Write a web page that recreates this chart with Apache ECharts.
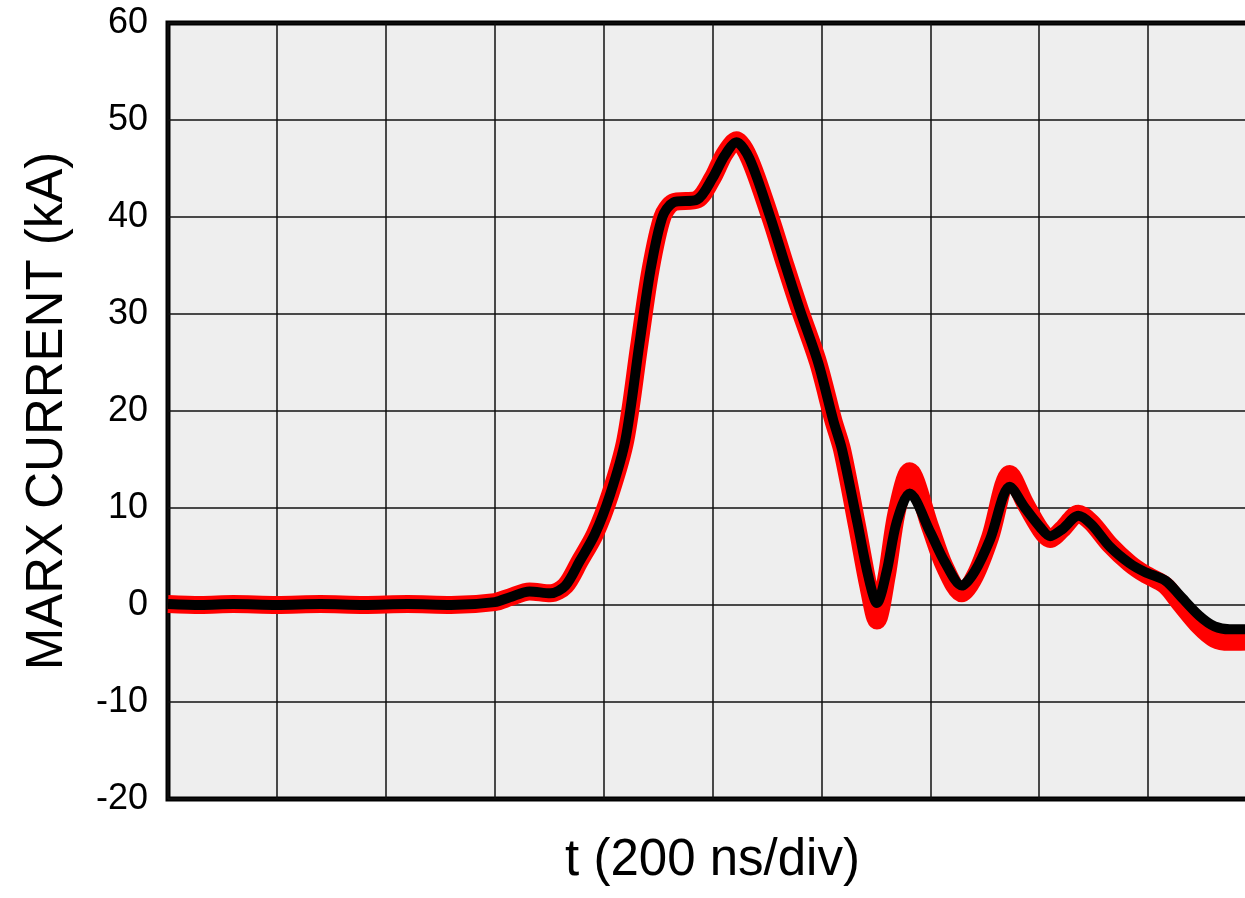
<!DOCTYPE html>
<html>
<head>
<meta charset="utf-8">
<script src="https://cdn.jsdelivr.net/npm/echarts@6/dist/echarts.min.js"></script>
<style>
  html, body { margin: 0; padding: 0; background: #ffffff; overflow: hidden; width: 1245px; height: 898px; }
  #chart { width: 1257px; height: 898px; }
</style>
</head>
<body>
<div id="chart"></div>
<script>
// time in divisions (200 ns/div)
const tDiv = [0, 0.3, 0.6, 1.0, 1.4, 1.8, 2.2, 2.6, 3.0, 3.14, 3.32, 3.51, 3.65, 3.78, 3.92, 4.06, 4.20, 4.33, 4.43, 4.54, 4.64, 4.86, 5.0, 5.11, 5.22, 5.34, 5.53, 5.67, 5.80, 5.97, 6.11, 6.19, 6.33, 6.43, 6.51, 6.60, 6.69, 6.81, 7.0, 7.13, 7.29, 7.41, 7.55, 7.73, 7.87, 8.01, 8.10, 8.21, 8.36, 8.48, 8.65, 8.83, 8.97, 9.16, 9.29, 9.47, 9.61, 9.75, 10.0];
// black trace (kA)
const blackTrace = [0.1, 0.0, 0.1, 0.0, 0.1, 0.0, 0.1, 0.0, 0.3, 0.8, 1.4, 1.2, 2.0, 4.5, 7.3, 11.4, 17.0, 27.0, 34.5, 40.0, 41.5, 41.8, 44.0, 46.3, 47.7, 46.0, 40.0, 35.0, 30.5, 25.0, 19.0, 16.0, 8.5, 3.0, 0.2, 3.5, 8.5, 11.5, 7.5, 4.5, 2.0, 3.5, 6.8, 12.2, 10.0, 8.0, 7.1, 7.8, 9.2, 8.3, 6.0, 4.3, 3.4, 2.5, 1.0, -1.1, -2.2, -2.5, -2.5];
// red trace (kA)
const redTrace = [0.1, 0.0, 0.1, 0.0, 0.1, 0.0, 0.1, 0.0, 0.3, 0.8, 1.4, 1.2, 2.0, 4.5, 7.3, 11.4, 17.0, 27.0, 34.5, 40.0, 41.5, 41.8, 44.0, 46.5, 47.9, 46.0, 40.0, 35.0, 30.5, 25.0, 19.0, 16.0, 8.0, 2.0, -1.6, 3.0, 9.5, 13.8, 8.0, 4.0, 1.2, 3.0, 7.0, 13.5, 10.5, 7.8, 6.8, 7.8, 9.4, 8.5, 6.2, 4.3, 3.2, 2.0, 0.2, -2.2, -3.5, -3.8, -3.7];
const yTicks = [-20, -10, 0, 10, 20, 30, 40, 50, 60];

const FONT = 'Liberation Sans, Arial, Helvetica, sans-serif';
const chart = echarts.init(document.getElementById('chart'));
chart.setOption({
  animation: false,
  backgroundColor: '#ffffff',
  grid: {
    left: 168, top: 23, right: 0, bottom: 99,
    show: true, backgroundColor: '#eeeeee', borderColor: '#000000', borderWidth: 5
  },
  xAxis: {
    type: 'value', min: 0, max: 10, interval: 1,
    axisLabel: { show: false }, axisTick: { show: false }, axisLine: { show: false },
    splitLine: { show: true, lineStyle: { color: '#111111', width: 1.5 } },
    name: 't (200 ns/div)', nameLocation: 'middle', nameGap: 36,
    nameTextStyle: { fontSize: 51, color: '#000', fontFamily: FONT }
  },
  yAxis: {
    type: 'value', min: yTicks[0], max: yTicks[yTicks.length - 1], interval: 10,
    axisLabel: { fontSize: 36, color: '#000', fontFamily: FONT, margin: 20 },
    axisTick: { show: false }, axisLine: { show: false },
    splitLine: { show: true, lineStyle: { color: '#111111', width: 1.5 } },
    name: 'MARX CURRENT (kA)', nameLocation: 'middle', nameGap: 95,
    nameTextStyle: { fontSize: 51, color: '#000', fontFamily: FONT }
  },
  series: [
    {
      type: 'line', showSymbol: false, smooth: 0.3,
      data: tDiv.map((t, i) => [t, redTrace[i]]),
      lineStyle: { color: '#ff0000', width: 18 }, itemStyle: { color: '#ff0000' }
    },
    {
      type: 'line', showSymbol: false, smooth: 0.3,
      data: tDiv.map((t, i) => [t, blackTrace[i]]),
      lineStyle: { color: '#000000', width: 10 }, itemStyle: { color: '#000000' }
    }
  ]
});
</script>
</body>
</html>
